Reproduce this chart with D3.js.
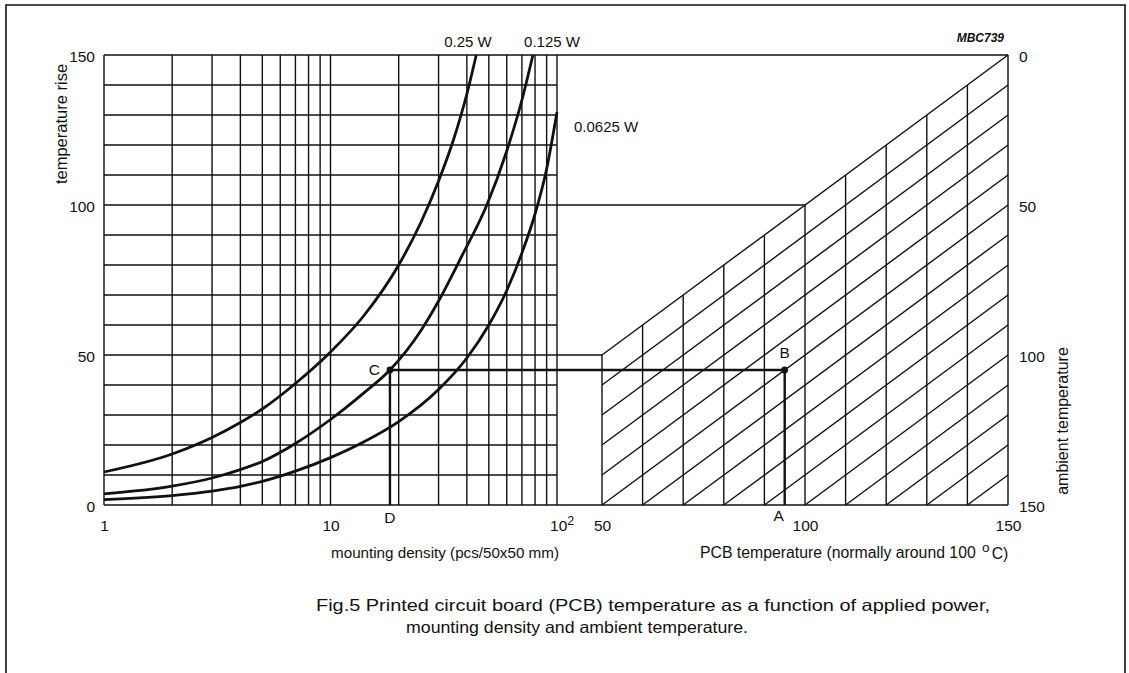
<!DOCTYPE html>
<html>
<head>
<meta charset="utf-8">
<script src="https://cdn.jsdelivr.net/npm/d3@7"></script>
<style>
  html, body { margin: 0; padding: 0; background: #fff; }
  svg { display: block; }
  text { font-family: "Liberation Sans", Arial, Helvetica, sans-serif; fill: #111; }
</style>
</head>
<body>
<svg id="chart" width="1129" height="673"></svg>
<script>
// ---------- data ----------
const densityGrid = [1, 2, 3, 4, 5, 6, 7, 8, 9, 10, 20, 30, 40, 50, 60, 70, 80, 90, 100];
const riseGrid = [0, 10, 20, 30, 40, 50, 60, 70, 80, 90, 100, 110, 120, 130, 140, 150];
const riseTicks = [0, 50, 100, 150];
const densityTicks = [1, 10, 100];
const pcbTicks = [50, 100, 150];
const pcbGrid = [50, 60, 70, 80, 90, 100, 110, 120, 130, 140, 150];
const ambientLines = [0, 10, 20, 30, 40, 50, 60, 70, 80, 90, 100, 110, 120, 130, 140];
const ambientTicks = [0, 50, 100, 150];
const connectorRises = [50, 100, 150];   // horizontal links left panel -> right panel

// curves: [mounting density, temperature rise]
const curve025 = [[1, 11], [2, 17], [3, 22.5], [4, 27.5], [5, 32], [7, 40.5], [10, 51], [14, 63], [20, 80], [25, 94], [30, 108], [35, 122], [40, 137], [44, 150]];
const curve0125 = [[1, 3.7], [2, 6.3], [3, 9], [4, 11.8], [5, 14.5], [7, 20.5], [10, 28.5], [14, 37.3], [18.3, 45], [25, 58], [30, 68], [38, 83], [49, 100], [60, 118], [70, 135], [78.3, 150]];
const curve00625 = [[1, 1.8], [2, 3.1], [3, 4.6], [4, 6.2], [5, 7.9], [7, 11.3], [10, 15.8], [14, 21], [20, 27.8], [30, 38.5], [40, 49], [50, 60], [60, 71.5], [70, 84], [80, 97], [90, 112], [100, 131]];
const curveLabels = ["0.25 W", "0.125 W", "0.0625 W"];

// worked example
const exampleDensity = 18.3;   // D
const exampleRise = 45;        // C -> B
const examplePCB = 95;         // A

// ---------- drawing ----------
const svg = d3.select("#chart");
svg.append("rect").attr("width", 1129).attr("height", 673).attr("fill", "#fff");

const x = d3.scaleLog().domain([1, 100]).range([104, 557]);
const y = d3.scaleLinear().domain([0, 150]).range([505, 55]);
const xp = d3.scaleLinear().domain([50, 150]).range([602, 1008]);
const ya = d3.scaleLinear().domain([0, 150]).range([55, 505]);

const ink = "#111";

// outer frame (open at bottom)
svg.append("path")
  .attr("d", "M6,680 L6,5 L1125,5 L1125,680")
  .attr("fill", "none").attr("stroke", ink).attr("stroke-width", 1.6);

// left grid
const g = svg.append("g").attr("stroke", ink).attr("stroke-width", 1.4).attr("fill", "none");
g.selectAll(".vg").data(densityGrid).join("line")
  .attr("x1", d => x(d)).attr("x2", d => x(d))
  .attr("y1", y(0)).attr("y2", y(150));
g.selectAll(".hg").data(riseGrid).join("line")
  .attr("x1", x(1)).attr("x2", x(100))
  .attr("y1", d => y(d)).attr("y2", d => y(d));

// connectors between panels
g.selectAll(".cn").data(connectorRises).join("line")
  .attr("x1", x(100)).attr("x2", d => xp(Math.min(150, Math.max(50, d))))
  .attr("y1", d => y(d)).attr("y2", d => y(d));
// bottom line across
g.append("line").attr("x1", x(100)).attr("x2", xp(150)).attr("y1", y(0)).attr("y2", y(0));

// right panel verticals (from 0 up to envelope rise = pcb temperature)
g.selectAll(".pv").data(pcbGrid).join("line")
  .attr("x1", d => xp(d)).attr("x2", d => xp(d))
  .attr("y1", y(0)).attr("y2", d => y(d));

// ambient temperature diagonals: rise = pcb - ambient
g.selectAll(".dg").data(ambientLines).join("line")
  .attr("x1", a => xp(Math.max(50, a))).attr("y1", a => y(Math.max(50, a) - a))
  .attr("x2", xp(150)).attr("y2", a => y(150 - a));

// curves
const line = d3.line().x(d => x(d[0])).y(d => y(d[1])).curve(d3.curveMonotoneX);
svg.selectAll(".curve").data([curve025, curve0125, curve00625]).join("path")
  .attr("d", line).attr("fill", "none").attr("stroke", ink).attr("stroke-width", 2.8);

// worked example path D -> C -> B -> A
svg.append("path")
  .attr("d", `M${x(exampleDensity)},${y(0)} L${x(exampleDensity)},${y(exampleRise)} L${xp(examplePCB)},${y(exampleRise)} L${xp(examplePCB)},${y(0)}`)
  .attr("fill", "none").attr("stroke", ink).attr("stroke-width", 2.4);
svg.append("circle").attr("cx", x(exampleDensity)).attr("cy", y(exampleRise)).attr("r", 3.4).attr("fill", ink);
svg.append("circle").attr("cx", xp(examplePCB)).attr("cy", y(exampleRise)).attr("r", 3.4).attr("fill", ink);

// axes (labels only)
const fs = 15.5;
const leftAxis = svg.append("g").attr("transform", `translate(${x(1)},0)`)
  .call(d3.axisLeft(y).tickValues(riseTicks).tickSize(0).tickPadding(9).tickFormat(d3.format("d")));
const bottomAxis = svg.append("g").attr("transform", `translate(0,${y(0)})`)
  .call(d3.axisBottom(x).tickValues(densityTicks).tickSize(0).tickPadding(15).tickFormat(d => d === 100 ? "10" : String(d)));
const pcbAxis = svg.append("g").attr("transform", `translate(0,${y(0)})`)
  .call(d3.axisBottom(xp).tickValues(pcbTicks).tickSize(0).tickPadding(15).tickFormat(d3.format("d")));
const ambAxis = svg.append("g").attr("transform", `translate(${xp(150)},0)`)
  .call(d3.axisRight(ya).tickValues(ambientTicks).tickSize(0).tickPadding(11).tickFormat(d3.format("d")));
[leftAxis, bottomAxis, pcbAxis, ambAxis].forEach(a => {
  a.select(".domain").remove();
  a.selectAll("text").attr("font-size", fs).attr("fill", ink)
    .style("font-family", '"Liberation Sans", Arial, sans-serif');
});
leftAxis.selectAll("text").attr("dy", "0.45em");
ambAxis.selectAll("text").attr("dy", "0.45em");
// superscript for 10^2
bottomAxis.selectAll(".tick").filter(d => d === 100).select("text")
  .attr("dx", "0.3em")
  .append("tspan").attr("dy", "-0.45em").attr("font-size", 12.5).text("2");

// curve labels
const labelPos = [[468, 43], [552, 43], [574, 128]];
svg.selectAll(".clab").data(curveLabels).join("text")
  .attr("x", (d, i) => labelPos[i][0]).attr("y", (d, i) => labelPos[i][1])
  .attr("text-anchor", (d, i) => i < 2 ? "middle" : "start")
  .attr("dominant-baseline", "middle")
  .attr("font-size", 15).text(d => d);

// point labels
svg.append("text").attr("x", x(exampleDensity) - 10).attr("y", y(exampleRise) + 1).attr("text-anchor", "end")
  .attr("dominant-baseline", "middle").attr("font-size", fs).text("C");
svg.append("text").attr("x", xp(examplePCB)).attr("y", y(exampleRise) - 16).attr("text-anchor", "middle")
  .attr("dominant-baseline", "middle").attr("font-size", fs).text("B");
svg.append("text").attr("x", x(exampleDensity)).attr("y", 519).attr("text-anchor", "middle")
  .attr("dominant-baseline", "middle").attr("font-size", fs).text("D");
svg.append("text").attr("x", xp(examplePCB) - 6).attr("y", 517).attr("text-anchor", "middle")
  .attr("dominant-baseline", "middle").attr("font-size", fs).text("A");

// axis titles
svg.append("text").attr("transform", `translate(67,124) rotate(-90)`).attr("text-anchor", "middle")
  .attr("font-size", 16.5).text("temperature rise");
svg.append("text").attr("transform", `translate(1068,421) rotate(-90)`).attr("text-anchor", "middle")
  .attr("font-size", 16).text("ambient temperature");
svg.append("text").attr("x", 445).attr("y", 558).attr("text-anchor", "middle")
  .attr("font-size", 15.2).text("mounting density (pcs/50x50 mm)");
const pcbTitle = svg.append("text").attr("x", 700).attr("y", 558).attr("text-anchor", "start").attr("font-size", 15.8);
pcbTitle.append("tspan").text("PCB temperature (normally around 100 ");
pcbTitle.append("tspan").attr("dy", "-0.45em").attr("dx", 2).attr("font-size", 13.5).text("o");
pcbTitle.append("tspan").attr("dy", "0.45em").attr("dx", 2).text("C)");

// code
svg.append("text").attr("x", 1004).attr("y", 42).attr("text-anchor", "end")
  .attr("font-size", 12).attr("font-style", "italic").attr("font-weight", "bold").text("MBC739");

// caption
svg.append("text").attr("x", 316).attr("y", 611).attr("font-size", 16.5)
  .attr("textLength", 674).attr("lengthAdjust", "spacingAndGlyphs")
  .text("Fig.5  Printed circuit board (PCB) temperature as a function of applied power,");
svg.append("text").attr("x", 406).attr("y", 633).attr("font-size", 16.5)
  .attr("textLength", 342).attr("lengthAdjust", "spacingAndGlyphs")
  .text("mounting density and ambient temperature.");
</script>
</body>
</html>
